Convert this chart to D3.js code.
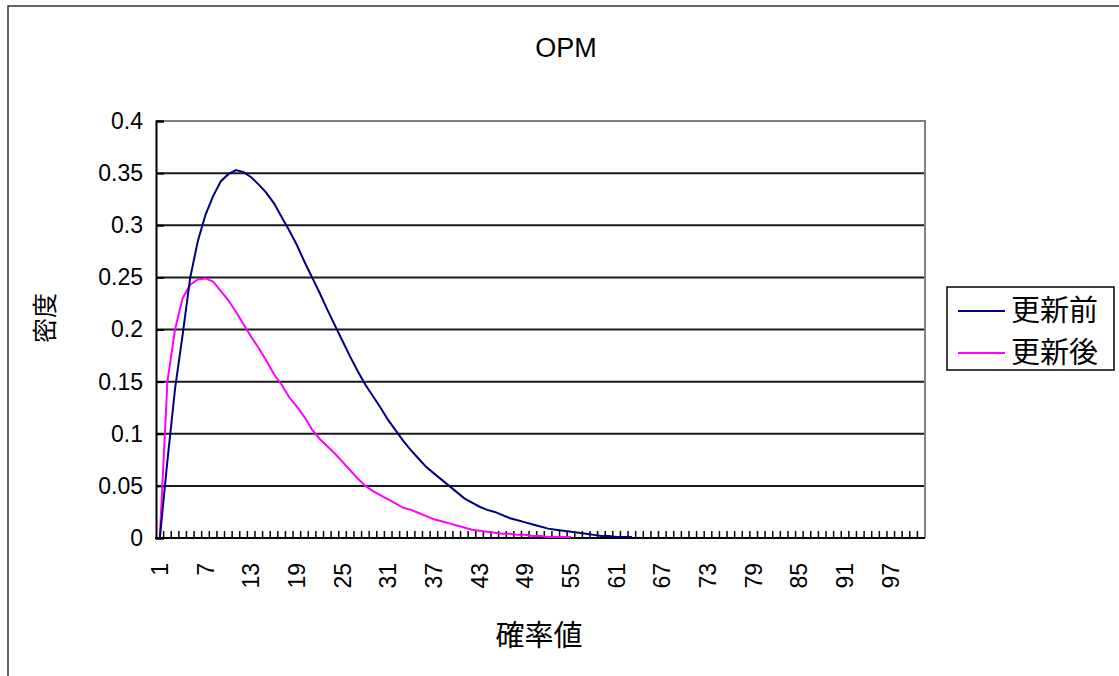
<!DOCTYPE html>
<html>
<head>
<meta charset="utf-8">
<script src="https://cdn.jsdelivr.net/npm/d3@7"></script>
<style>
  body { margin: 0; background: #fff; }
  svg { display: block; }
  .num { font-family: "Liberation Sans", Arial, sans-serif; }
  .cjk { font-family: "Noto Sans CJK JP", sans-serif; }
</style>
</head>
<body>
<svg id="chart"></svg>
<script>
// categories 1..101 (probability steps), labels shown every 6th
var categories = d3.range(1, 102);
var xTickLabels = [1, 7, 13, 19, 25, 31, 37, 43, 49, 55, 61, 67, 73, 79, 85, 91, 97];
var yTicks = [0, 0.05, 0.1, 0.15, 0.2, 0.25, 0.3, 0.35, 0.4];

// 更新前 (before update)
var before = [0, 0.074, 0.143, 0.195, 0.250, 0.285, 0.310, 0.328, 0.342, 0.349,
              0.353, 0.351, 0.346, 0.339, 0.331, 0.321, 0.308, 0.295, 0.281, 0.265,
              0.250, 0.235, 0.219, 0.204, 0.189, 0.174, 0.160, 0.147, 0.136, 0.125,
              0.113, 0.103, 0.093, 0.084, 0.076, 0.068, 0.062, 0.056, 0.050, 0.044,
              0.038, 0.034, 0.030, 0.027, 0.025, 0.022, 0.019, 0.017, 0.015, 0.013,
              0.011, 0.009, 0.008, 0.007, 0.006, 0.005, 0.004, 0.003, 0.002, 0.002,
              0.001, 0.001, 0.001];

// 更新後 (after update)
var after = [0, 0.150, 0.200, 0.230, 0.243, 0.248, 0.249, 0.246, 0.237, 0.228,
             0.217, 0.205, 0.193, 0.182, 0.170, 0.157, 0.147, 0.135, 0.126, 0.116,
             0.104, 0.095, 0.088, 0.081, 0.073, 0.065, 0.057, 0.050, 0.045, 0.041,
             0.037, 0.033, 0.029, 0.027, 0.024, 0.021, 0.018, 0.016, 0.014, 0.012,
             0.010, 0.008, 0.007, 0.006, 0.005, 0.004, 0.004, 0.003, 0.003, 0.002,
             0.002, 0.001, 0.001, 0.001, 0.001];

var seriesNames = ["更新前", "更新後"];
var seriesColors = ["#000080", "#ff00ff"];

var width = 1119, height = 676;
var plot = {left: 156, right: 925, top: 121, bottom: 538};

var svg = d3.select("#chart")
    .attr("width", width)
    .attr("height", height);

// chart area border
svg.append("rect")
    .attr("x", 8).attr("y", 6)
    .attr("width", 1130).attr("height", 700)
    .attr("fill", "#fff")
    .attr("stroke", "#333")
    .attr("stroke-width", 1.5);

var x = d3.scaleBand()
    .domain(categories)
    .range([plot.left, plot.right])
    .paddingInner(0).paddingOuter(0);

var y = d3.scaleLinear()
    .domain([0, 0.4])
    .range([plot.bottom, plot.top]);

var cx = function(c) { return x(c) + x.bandwidth() / 2; };

// gridlines
svg.append("g")
    .selectAll("line")
    .data(yTicks.filter(function(d) { return d > 0 && d < 0.4; }))
    .enter().append("line")
    .attr("x1", plot.left).attr("x2", plot.right)
    .attr("y1", function(d) { return y(d); })
    .attr("y2", function(d) { return y(d); })
    .attr("stroke", "#1a1a1a")
    .attr("stroke-width", 2);

// plot border top / right in gray
svg.append("path")
    .attr("d", "M" + plot.left + "," + plot.top + "H" + plot.right + "V" + plot.bottom)
    .attr("fill", "none")
    .attr("stroke", "#808080")
    .attr("stroke-width", 2);

// y axis
var yAxis = d3.axisLeft(y)
    .tickValues(yTicks)
    .tickSize(-8)
    .tickPadding(14)
    .tickFormat(function(d) { return d3.format("")(+d.toFixed(2)); });

var gy = svg.append("g")
    .attr("transform", "translate(" + plot.left + ",0)")
    .call(yAxis);
gy.select(".domain").attr("stroke", "#000").attr("stroke-width", 2);
gy.selectAll(".tick line").attr("stroke", "#000").attr("stroke-width", 2);
gy.selectAll(".tick text")
    .attr("class", "num")
    .attr("font-size", 23)
    .attr("fill", "#000")
    .attr("x", -13);

// x axis: inside ticks at every category boundary
var gx = svg.append("g");
gx.selectAll("line.tk")
    .data(categories.slice(1))
    .enter().append("line")
    .attr("class", "tk")
    .attr("x1", function(c) { return x(c); })
    .attr("x2", function(c) { return x(c); })
    .attr("y1", plot.bottom)
    .attr("y2", plot.bottom - 7)
    .attr("stroke", "#000")
    .attr("stroke-width", 1.5);
gx.append("line")
    .attr("x1", plot.left - 1).attr("x2", plot.right)
    .attr("y1", plot.bottom).attr("y2", plot.bottom)
    .attr("stroke", "#000")
    .attr("stroke-width", 2);

gx.selectAll("text")
    .data(xTickLabels)
    .enter().append("text")
    .attr("class", "num")
    .attr("transform", function(c) { return "translate(" + cx(c) + ",563) rotate(-90)"; })
    .attr("text-anchor", "end")
    .attr("dy", "0.35em")
    .attr("font-size", 23)
    .text(function(c) { return c; });

// series lines
var line = d3.line()
    .x(function(d, i) { return cx(categories[i]); })
    .y(function(d) { return y(d); });

[after, before].forEach(function(s, k) {
    var idx = k === 0 ? 1 : 0;
    svg.append("path")
        .attr("d", line(s))
        .attr("fill", "none")
        .attr("stroke", seriesColors[idx])
        .attr("stroke-width", 2);
});

// title
svg.append("text")
    .attr("class", "num")
    .attr("x", 566).attr("y", 48)
    .attr("text-anchor", "middle")
    .attr("dy", "0.35em")
    .attr("font-size", 27)
    .text("OPM");

// axis titles
svg.append("text")
    .attr("class", "cjk")
    .attr("x", 539).attr("y", 636)
    .attr("text-anchor", "middle")
    .attr("dy", "0.35em")
    .attr("font-size", 29)
    .text("確率値");

svg.append("text")
    .attr("class", "cjk")
    .attr("transform", "translate(45,318) rotate(-90)")
    .attr("text-anchor", "middle")
    .attr("dy", "0.35em")
    .attr("font-size", 25)
    .text("密度");

// legend
var lg = svg.append("g");
lg.append("rect")
    .attr("x", 947).attr("y", 287)
    .attr("width", 167).attr("height", 83)
    .attr("fill", "#fff")
    .attr("stroke", "#000")
    .attr("stroke-width", 1.5);

var rows = lg.selectAll("g.row")
    .data(seriesNames)
    .enter().append("g")
    .attr("class", "row")
    .attr("transform", function(d, i) { return "translate(0," + (311 + i * 42) + ")"; });
rows.append("line")
    .attr("x1", 958).attr("x2", 1005)
    .attr("y1", 0).attr("y2", 0)
    .attr("stroke", function(d, i) { return seriesColors[i]; })
    .attr("stroke-width", 2);
rows.append("text")
    .attr("class", "cjk")
    .attr("x", 1011)
    .attr("dy", "0.35em")
    .attr("font-size", 29)
    .text(function(d) { return d; });
</script>
</body>
</html>
